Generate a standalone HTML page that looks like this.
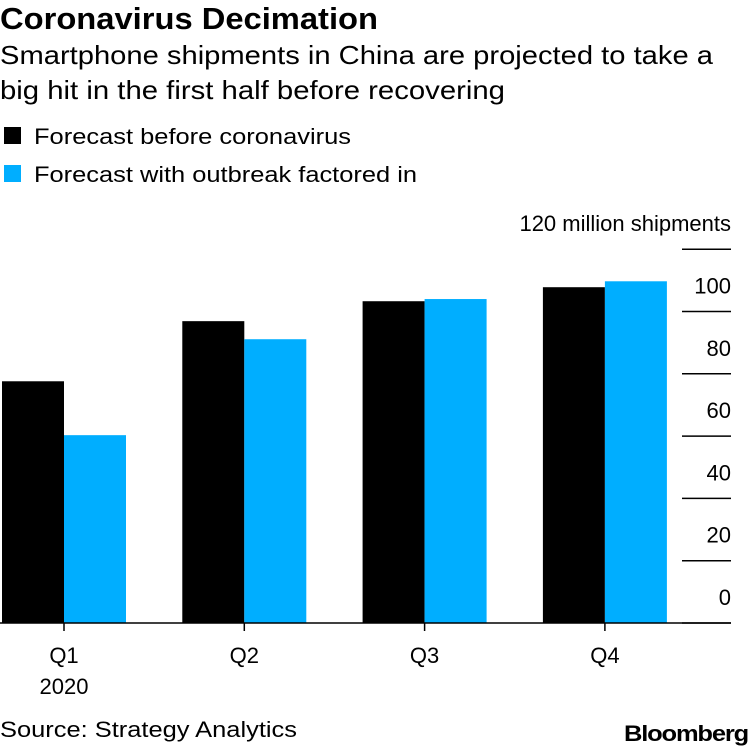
<!DOCTYPE html>
<html><head><meta charset="utf-8"><style>
body{margin:0;background:#fff;font-family:"Liberation Sans",Arial,sans-serif;}
svg text{font-family:"Liberation Sans",Arial,sans-serif;}
</style></head><body>
<svg id="chart" width="750" height="748" xmlns="http://www.w3.org/2000/svg">
<text x="0" y="29" font-size="31" font-weight="bold" fill="#000" textLength="378" lengthAdjust="spacingAndGlyphs">Coronavirus Decimation</text>
<text x="0" y="64" font-size="26" fill="#000" textLength="713" lengthAdjust="spacingAndGlyphs">Smartphone shipments in China are projected to take a</text>
<text x="0" y="99" font-size="26" fill="#000" textLength="505" lengthAdjust="spacingAndGlyphs">big hit in the first half before recovering</text>
<rect x="4" y="127" width="17" height="17" fill="#000"/>
<text x="34" y="144" font-size="22" textLength="317" lengthAdjust="spacingAndGlyphs">Forecast before coronavirus</text>
<rect x="4" y="165" width="17" height="17" fill="#00aeff"/>
<text x="34" y="182" font-size="22" textLength="383" lengthAdjust="spacingAndGlyphs">Forecast with outbreak factored in</text>
<g id="plot"></g>
<text x="0" y="737" font-size="22" textLength="297" lengthAdjust="spacingAndGlyphs">Source: Strategy Analytics</text>
<text x="624" y="741" font-size="22" font-weight="bold" letter-spacing="-1" textLength="124" lengthAdjust="spacingAndGlyphs">Bloomberg</text>
</svg>
<script>
const categories=["Q1","Q2","Q3","Q4"];
const beforeValues=[77.6,96.9,103.3,107.8];
const outbreakValues=[60.3,91.1,104,109.7];
const tickValues=[0,20,40,60,80,100,120];
const tickLabels=["0","20","40","60","80","100","120 million shipments"];
const NS="http://www.w3.org/2000/svg";
const g=document.getElementById('plot');
const y0=623,pxPer=3.115;
function y(v){return y0-v*pxPer;}
function x(i){return 2+i*180.3;}
function mk(t,a){const e=document.createElementNS(NS,t);for(const k in a)e.setAttribute(k,a[k]);g.appendChild(e);return e;}
tickValues.forEach((v,i)=>{
  const l=mk('line',{x1:682,x2:731,y1:y(v),y2:y(v),stroke:'#000','stroke-width':1.5});
  
  
  const t=mk('text',{x:731,y:y(v)-18,'font-size':22,'text-anchor':'end'});
  t.textContent=tickLabels[i];
  
  
});
categories.forEach((c,i)=>{
  const bx=x(i);
  const b=mk('rect',{x:bx,y:y(beforeValues[i]),width:62,height:y0-y(beforeValues[i]),fill:'#000'});
  
  
  const o=mk('rect',{x:bx+62,y:y(outbreakValues[i]),width:62,height:y0-y(outbreakValues[i]),fill:'#00aeff'});
  
  
  const tk=mk('line',{x1:bx+62,x2:bx+62,y1:y0,y2:y0+8,stroke:'#000','stroke-width':1.5});
  
  
  const t=mk('text',{x:bx+62,y:663,'font-size':22,'text-anchor':'middle'});
  t.textContent=c;
  
  
});
const yr=mk('text',{x:64,y:694,'font-size':22,'text-anchor':'middle'});
yr.textContent='2020';


const base=mk('line',{x1:0,x2:731,y1:y0,y2:y0,stroke:'#000','stroke-width':1.5});


</script>
</body></html>
